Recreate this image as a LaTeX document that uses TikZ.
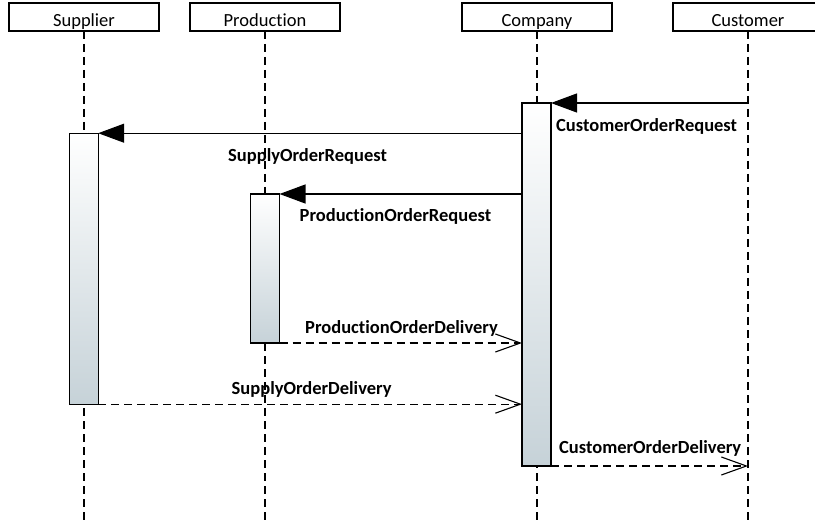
\documentclass[tikz,border=0pt]{standalone}
\usepackage{fontspec}
\setmainfont{Carlito}[Ligatures=NoCommon]
\usetikzlibrary{arrows.meta}
\definecolor{barbot}{RGB}{198,210,216}
\begin{document}
\begin{tikzpicture}[x=1pt,y=-1pt,
  font=\fontsize{18.5}{22}\selectfont,
  hdr/.style={draw=black,line width=1.1pt,minimum width=150pt,minimum height=28pt,inner ysep=0pt,text height=24pt,text depth=4pt,outer sep=0pt},
  lifeline/.style={draw=black,line width=1.1pt,dash pattern=on 8pt off 5pt},
  actbar/.style={draw=black,line width=1.1pt,minimum width=29pt,inner sep=0pt,outer sep=0pt,top color=white,bottom color=barbot,shading angle=0},
  syncmsg/.style={draw=black,line width=1.1pt,-{Triangle[length=26pt,width=19pt]}},
  replymsg/.style={draw=black,line width=1.1pt,dash pattern=on 8pt off 5pt,-{Straight Barb[length=25pt,width=18pt,line width=1.1pt]}},
  msglabel/.style={font=\fontsize{18.5}{22}\selectfont\bfseries,inner sep=0pt,anchor=base west}]
\clip (0,0) rectangle (815,524);
% headers
\node[hdr] (sup) at (84,17) {Supplier};
\node[hdr] (prod) at (265,17) {Production};
\node[hdr] (com) at (537,17) {Company};
\node[hdr] (cus) at (748,17) {Customer};
% lifeline ends
\coordinate (supend) at (84,524);
\coordinate (prodend) at (265,524);
\coordinate (comend) at (537,524);
\coordinate (cusend) at (748,524);
\draw[lifeline] (sup.south) -- (supend);
\draw[lifeline] (prod.south) -- (prodend);
\draw[lifeline] (com.south) -- (comend);
\draw[lifeline] (cus.south) -- (cusend);
% activation bars
\node[actbar,minimum height=271pt] (supbar) at (83.7,268.7) {};
\node[actbar,minimum height=149pt] (prodbar) at (265,268.5) {};
\node[actbar,minimum height=363pt] (combar) at (536.5,284.5) {};
% messages
\coordinate (m1s) at (748,103);
\draw[syncmsg] (m1s) -- (combar.north east);
\draw[syncmsg] (combar.west |- supbar.north) -- (supbar.north east);
\draw[syncmsg] (combar.west |- prodbar.north) -- (prodbar.north east);
\draw[replymsg] (prodbar.south east) -- (combar.west |- prodbar.south);
\draw[replymsg] (supbar.south east) -- (combar.west |- supbar.south);
\draw[replymsg] (combar.south east) -- (cus.south |- combar.south);
% labels
\node[msglabel] (l1) at (556,131.5) {CustomerOrderRequest};
\node[msglabel] (l2) at (228,161.5) {SupplyOrderRequest};
\node[msglabel] (l3) at (299.5,221.5) {ProductionOrderRequest};
\node[msglabel] (l4) at (305,333) {ProductionOrderDelivery};
\node[msglabel] (l5) at (231.5,394) {SupplyOrderDelivery};
\node[msglabel] (l6) at (559,453) {CustomerOrderDelivery};
\end{tikzpicture}
\end{document}
